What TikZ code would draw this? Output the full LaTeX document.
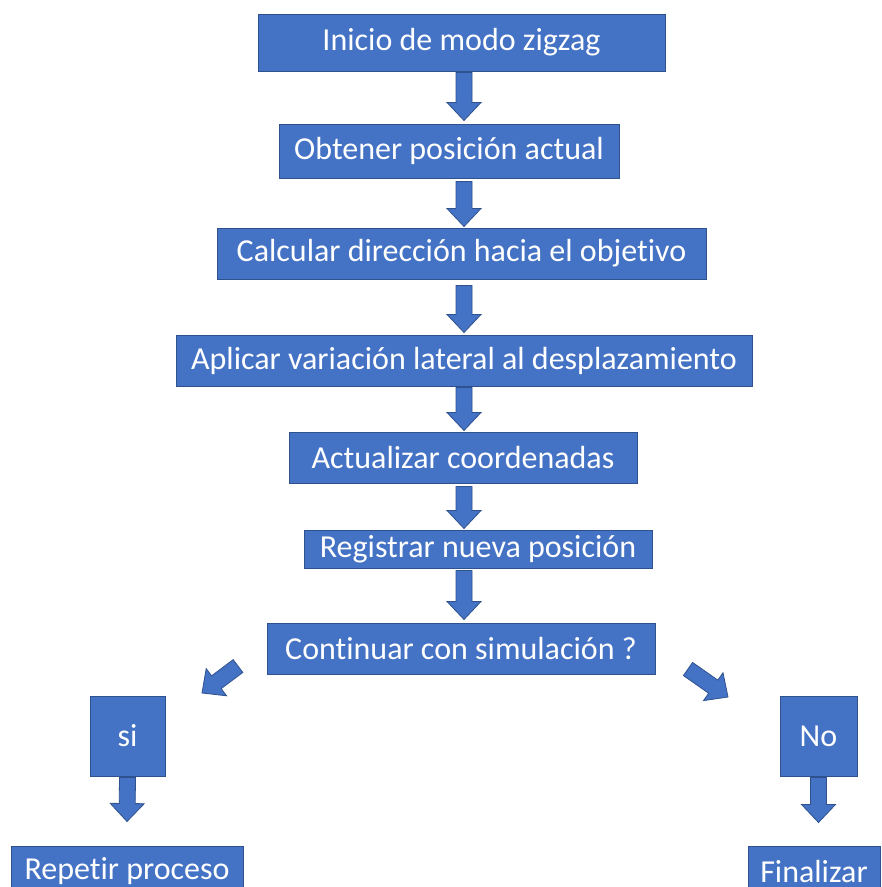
\documentclass[tikz,border=0pt]{standalone}
\usepackage{fontspec}
\setmainfont[Ligatures=NoCommon]{Carlito}
\usetikzlibrary{calc}
\definecolor{boxfill}{HTML}{4472C4}
\definecolor{boxline}{HTML}{2F528F}
\tikzset{
  box/.style={draw=boxline, line width=1pt, fill=boxfill, text=white,
    inner sep=0pt, font=\fontsize{32}{38}\selectfont},
  blockarr/.style={draw=boxline, line width=0.8pt, fill=boxfill, line join=miter},
}
% block arrow from #1 to #2 (coordinates)
\newcommand{\blockarrow}[2]{%
  \path (#1) coordinate (bs) (#2) coordinate (be);
  \path ($(be)!18pt!(bs)$) coordinate (bh);
  \filldraw[blockarr] ($(bs)!8pt!90:(be)$) -- ($(bh)!8pt!-90:(bs)$) --
    ($(bh)!17pt!-90:(bs)$) -- (be) -- ($(bh)!17pt!90:(bs)$) --
    ($(bh)!8pt!90:(bs)$) -- ($(bs)!8pt!-90:(be)$) -- cycle;
}
\begin{document}
\begin{tikzpicture}[x=1pt,y=-1pt]
\useasboundingbox[fill=white] (0,0) rectangle (882,887);
\node[box, minimum width=407pt, minimum height=57pt] (n1) at (461.5,42.5) {Inicio de modo zigzag};
\node[box, minimum width=340pt, minimum height=54pt] (n2) at (449,151) {Obtener posición actual};
\node[box, minimum width=489pt, minimum height=51pt] (n3) at (461.5,253.5) {Calcular dirección hacia el objetivo};
\node[box, minimum width=576pt, minimum height=51pt] (n4) at (464,360.5) {Aplicar variación lateral al desplazamiento};
\node[box, minimum width=348pt, minimum height=51pt] (n5) at (463,457.5) {Actualizar coordenadas};
\node[box, minimum width=348pt, minimum height=38pt] (n6) at (478,549) {Registrar nueva posición};
\node[box, minimum width=388pt, minimum height=51pt] (n7) at (461,648.5) {Continuar con simulación ?};
\node[box, minimum width=75pt, minimum height=80pt] (si) at (127.5,736) {si};
\node[box, minimum width=77pt, minimum height=80pt] (no) at (818.5,736) {No};
\node[box, minimum width=232pt, minimum height=50pt] (rep) at (127,871) {Repetir proceso};
\node[box, minimum width=132pt, minimum height=50pt] (fin) at (814,871) {Finalizar};

\coordinate (ax) at (464,0);
\blockarrow{$(n1.south -| ax)+(0,1)$}{$(n2.north -| ax)+(0,-3)$}
\blockarrow{$(n2.south -| ax)+(0,3)$}{$(n3.north -| ax)+(0,-1)$}
\blockarrow{$(n3.south -| ax)+(0,6)$}{$(n4.north -| ax)+(0,-2)$}
\blockarrow{$(n4.south -| ax)+(0,1)$}{$(n5.north -| ax)+(0,-1)$}
\blockarrow{$(n5.south -| ax)+(0,3)$}{$(n6.north -| ax)+(0,-1)$}
\blockarrow{$(n6.south -| ax)+(0,2)$}{$(n7.north -| ax)+(0,-3)$}
% diagonal connectors
\coordinate (dl1) at (238,666);
\coordinate (dl2) at (202,693);
\coordinate (dr1) at (688,669);
\coordinate (dr2) at (728,697);
\blockarrow{dl1}{dl2}
\blockarrow{dr1}{dr2}
% yes / no branches
\blockarrow{$(si.south)+(0,1)$}{$(rep.north)+(0,-24)$}
\blockarrow{$(no.south)+(0,1)$}{$(no.south)+(0,46)$}
\end{tikzpicture}
\end{document}
